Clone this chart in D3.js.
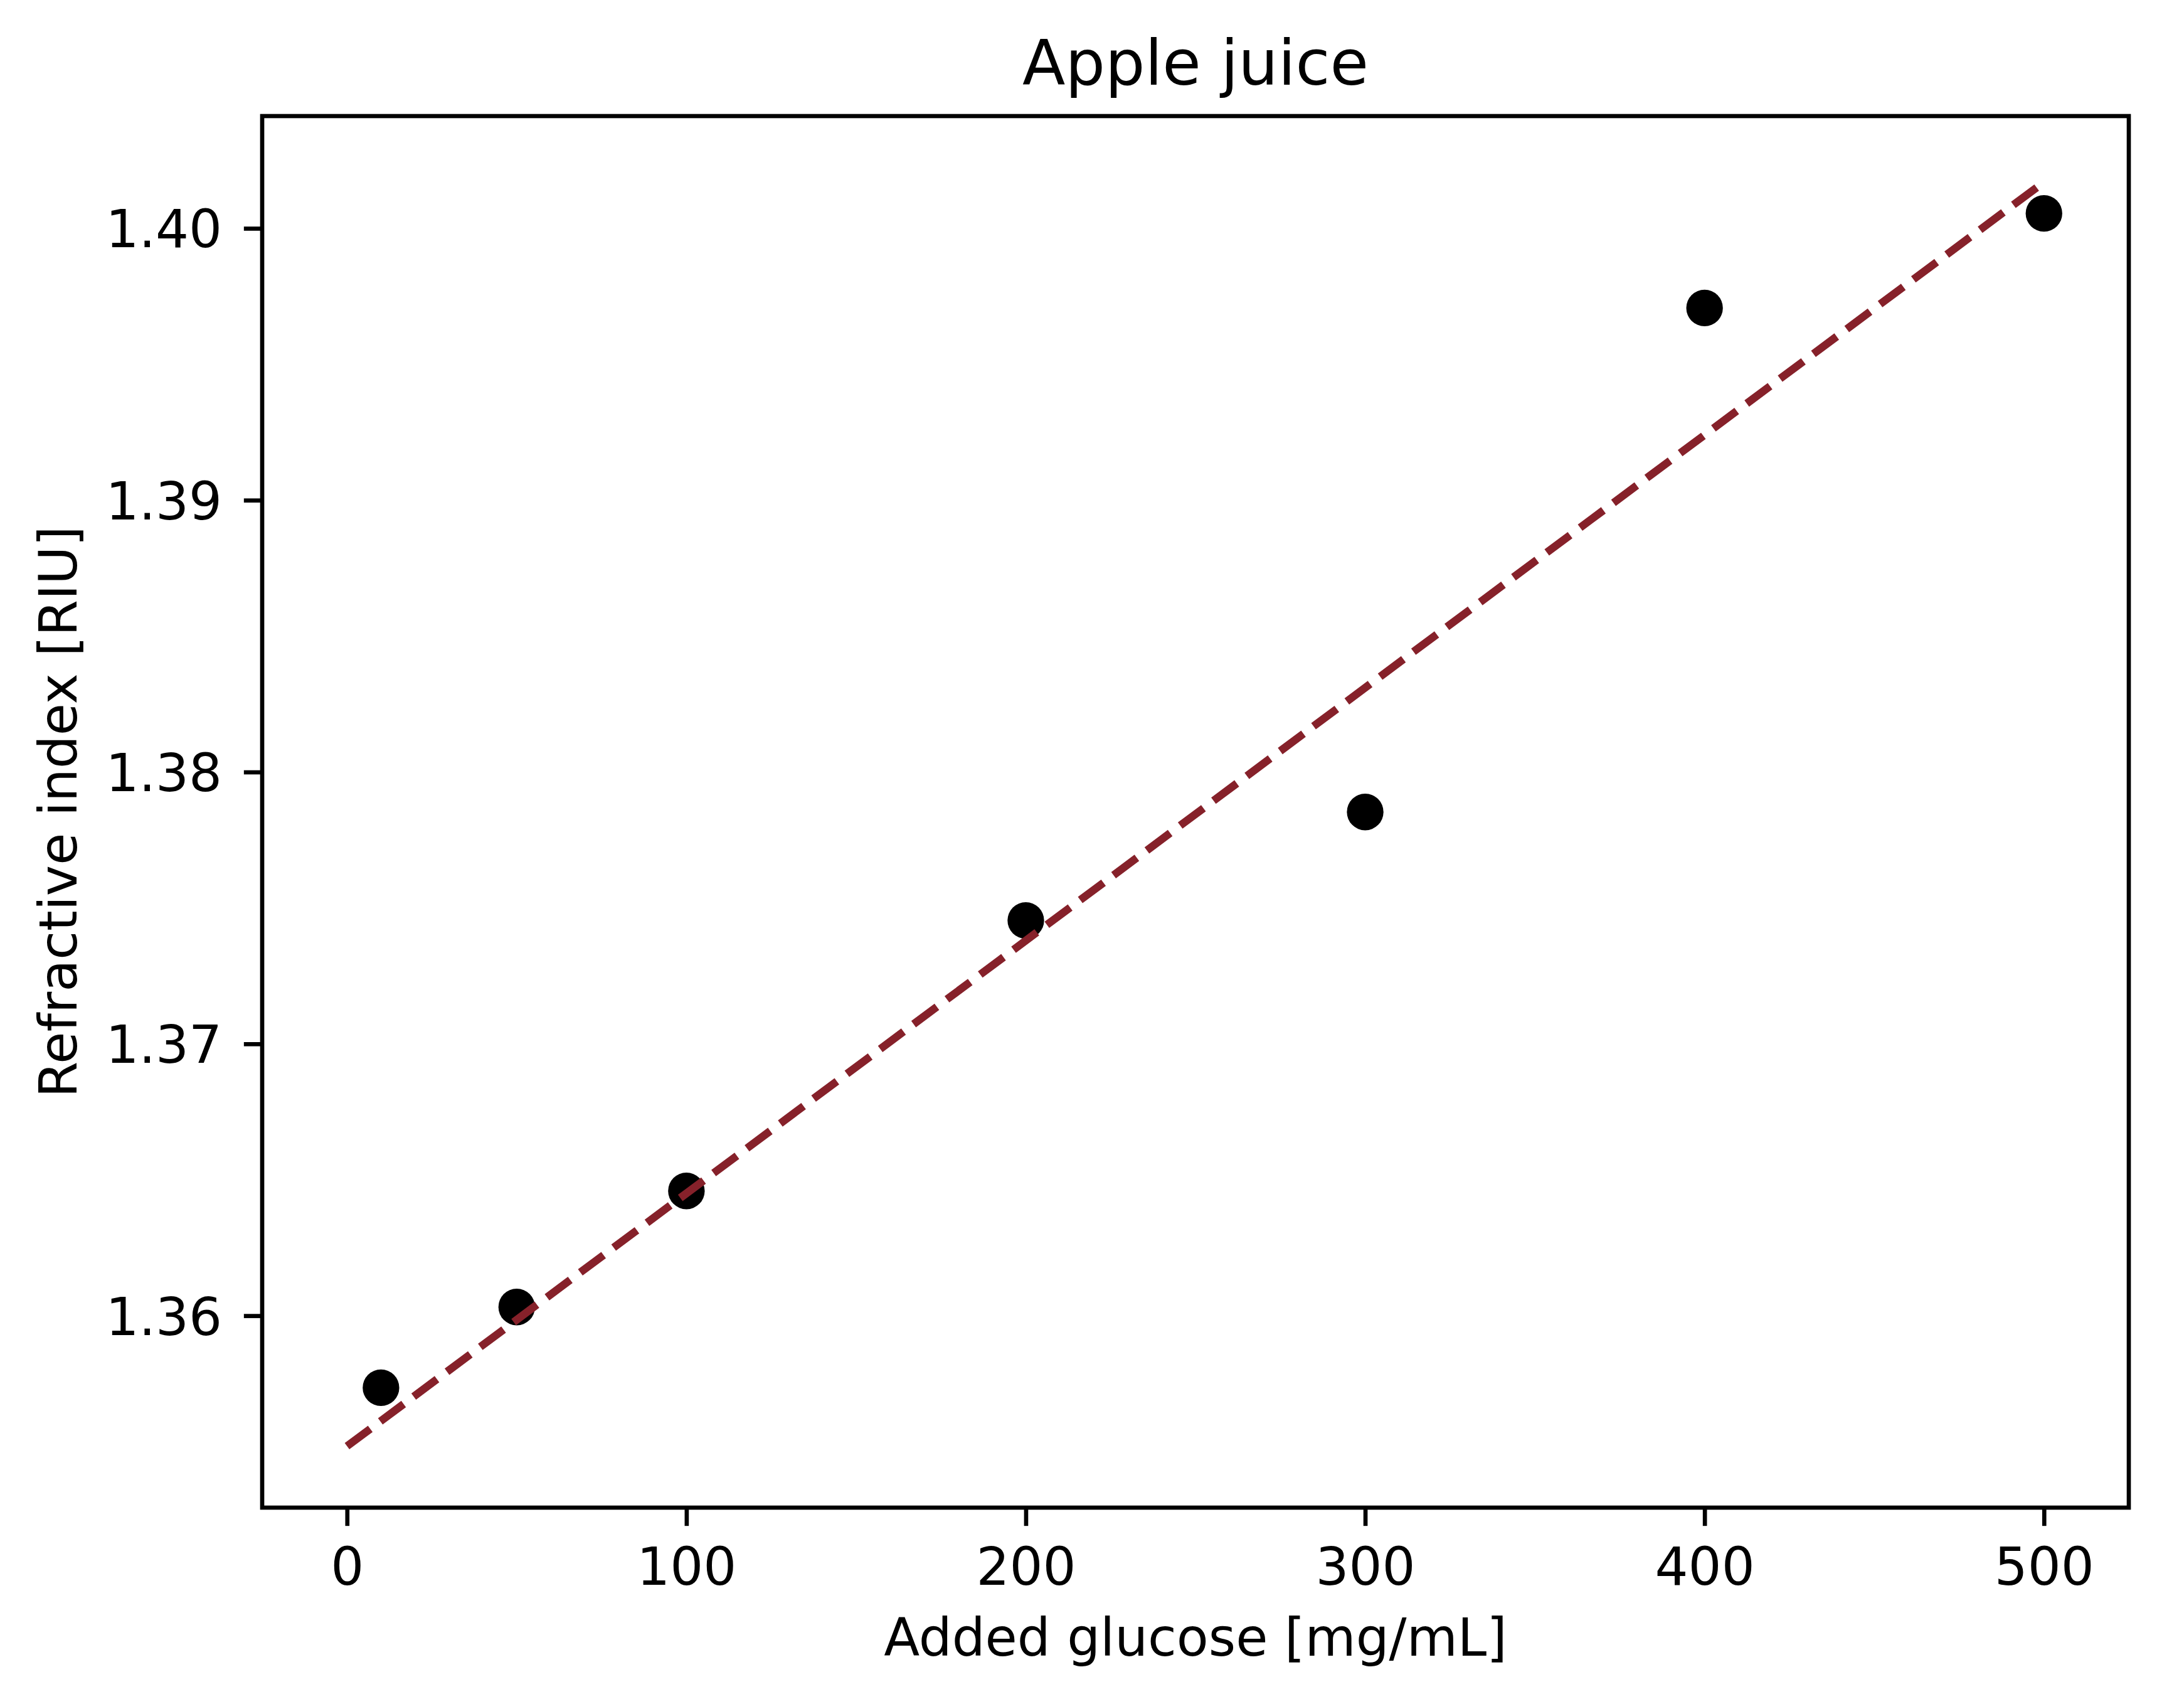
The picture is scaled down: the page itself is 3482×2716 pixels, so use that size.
<!DOCTYPE html>
<html>
<head>
<meta charset="utf-8">
<script src="https://cdn.jsdelivr.net/npm/d3@7"></script>
<style>
  html, body { margin: 0; padding: 0; background: #fff; }
  svg { display: block; font-family: "DejaVu Sans", sans-serif; }
</style>
</head>
<body>
<svg id="chart"></svg>
<script>
// measured points
const glucose = [10, 50, 100, 200, 300, 400, 500];
const refractiveIndex = [1.35735, 1.36032, 1.36459, 1.37454, 1.37853, 1.39707, 1.40055];

// fitted line end points
const fitGlucose = [0, 500];
const fitIndex = [1.3552, 1.4017];

const xTicks = [0, 100, 200, 300, 400, 500];
const yTicks = [1.36, 1.37, 1.38, 1.39, 1.40];

const title = 'Apple juice';
const xLabel = 'Added glucose [mg/mL]';
const yLabel = 'Refractive index [RIU]';

const width = 3482;
const height = 2716;
const margin = { top: 185, right: 88, bottom: 313, left: 418 }; // axes box
const pt = 600 / 72; // figure was saved at 600 dpi
const font = '"DejaVu Sans", sans-serif';

const svg = d3.select('#chart').attr('width', width).attr('height', height);

const xScale = d3.scaleLinear().domain([-25, 525]).range([margin.left, width - margin.right]);
const yScale = d3.scaleLinear().domain([1.35294, 1.40413]).range([height - margin.bottom, margin.top]);

const plotW = width - margin.left - margin.right;
const plotH = height - margin.top - margin.bottom;

// scatter points (drawn first, line goes on top like matplotlib)
svg.append('g')
  .selectAll('circle')
  .data(glucose.map((g, i) => ({ g, n: refractiveIndex[i] })))
  .enter()
  .append('circle')
  .attr('cx', d => xScale(d.g))
  .attr('cy', d => yScale(d.n))
  .attr('r', 3.5 * pt)
  .attr('fill', '#000');

// dashed fit line
const line = d3.line().x(d => xScale(d[0])).y(d => yScale(d[1]));
svg.append('path')
  .datum(fitGlucose.map((g, i) => [g, fitIndex[i]]))
  .attr('d', line)
  .attr('fill', 'none')
  .attr('stroke', '#86212a')
  .attr('stroke-width', 1.5 * pt)
  .attr('stroke-dasharray', `${5.55 * pt} ${2.4 * pt}`);

// X axis
const xAxis = svg.append('g')
  .attr('transform', `translate(0, ${height - margin.bottom})`)
  .call(d3.axisBottom(xScale).tickValues(xTicks).tickSize(3.5 * pt).tickFormat(d3.format('d')))
  .attr('font-family', font)
  .attr('font-size', 10 * pt);
xAxis.select('.domain').remove();
xAxis.selectAll('line').attr('stroke', '#000').attr('stroke-width', 0.8 * pt);
xAxis.selectAll('text')
  .attr('y', 123)
  .attr('dy', 0)
  .attr('fill', '#000');

// Y axis
const yAxis = svg.append('g')
  .attr('transform', `translate(${margin.left}, 0)`)
  .call(d3.axisLeft(yScale).tickValues(yTicks).tickSize(3.5 * pt).tickFormat(d3.format('.2f')))
  .attr('font-family', font)
  .attr('font-size', 10 * pt);
yAxis.select('.domain').remove();
yAxis.selectAll('line').attr('stroke', '#000').attr('stroke-width', 0.8 * pt);
yAxis.selectAll('text')
  .attr('x', -64)
  .attr('dy', '0.36em')
  .attr('fill', '#000');

// Frame
svg.append('rect')
  .attr('x', margin.left)
  .attr('y', margin.top)
  .attr('width', plotW)
  .attr('height', plotH)
  .attr('fill', 'none')
  .attr('stroke', '#000')
  .attr('stroke-width', 0.8 * pt);

// Title
svg.append('text')
  .attr('x', margin.left + plotW / 2)
  .attr('y', margin.top - 50)
  .attr('text-anchor', 'middle')
  .style('font-size', `${12 * pt}px`)
  .text(title);

// Axis labels
svg.append('text')
  .attr('x', margin.left + plotW / 2)
  .attr('y', 2639)
  .attr('text-anchor', 'middle')
  .style('font-size', `${10 * pt}px`)
  .text(xLabel);

svg.append('text')
  .attr('transform', `translate(122, ${margin.top + plotH / 2}) rotate(-90)`)
  .attr('text-anchor', 'middle')
  .style('font-size', `${10 * pt}px`)
  .text(yLabel);
</script>
</body>
</html>
